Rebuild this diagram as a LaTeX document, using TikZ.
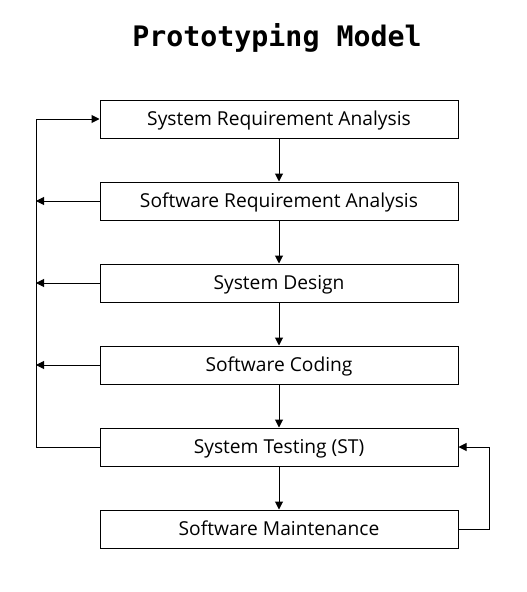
\documentclass[tikz,border=0pt]{standalone}
\usepackage{fontspec}
\setmainfont{Open Sans}
\newfontfamily\titlefont{DejaVu Sans Mono}
\usetikzlibrary{arrows.meta, positioning}

\begin{document}
\begin{tikzpicture}[x=0.75pt, y=-0.75pt,
    phase/.style={draw, line width=0.75pt, minimum width=268.5pt, minimum height=28.5pt,
      inner sep=0pt, text height=13.7pt, text depth=3.4pt, font=\fontsize{14.4}{17}\selectfont},
    flow/.style={line width=0.75pt, -{Triangle[length=6pt, width=6pt]}},
    back/.style={line width=0.75pt}]
  \useasboundingbox (0,0) rectangle (526,592);

  % title
  \node[font=\titlefont\bfseries\fontsize{21.2}{25}\selectfont] (title) at (277,38) {Prototyping Model};

  % phases
  \node[phase] (sysreq) at (279,119) {System Requirement Analysis};
  \node[phase, below=32.25pt of sysreq] (swreq) {Software Requirement Analysis};
  \node[phase, below=32.25pt of swreq] (design) {System Design};
  \node[phase, below=32.25pt of design] (coding) {Software Coding};
  \node[phase, below=32.25pt of coding] (test) {System Testing (ST)};
  \node[phase, below=32.25pt of test] (maint) {Software Maintenance};

  % main flow
  \draw[flow] (sysreq) -- (swreq);
  \draw[flow] (swreq) -- (design);
  \draw[flow] (design) -- (coding);
  \draw[flow] (coding) -- (test);
  \draw[flow] (test) -- (maint);

  % feedback line on the left
  \coordinate (fb) at (36,0);
  \draw[back] (test.west) -- (test.west -| fb) coordinate (fbbot);
  \draw[flow] (fbbot) |- (sysreq.west);
  \draw[flow] (swreq.west) -- (swreq.west -| fb);
  \draw[flow] (design.west) -- (design.west -| fb);
  \draw[flow] (coding.west) -- (coding.west -| fb);

  % maintenance back to testing
  \coordinate (rb) at (489,0);
  \draw[flow] (maint.east) -- (maint.east -| rb) |- (test.east);
\end{tikzpicture}
\end{document}
